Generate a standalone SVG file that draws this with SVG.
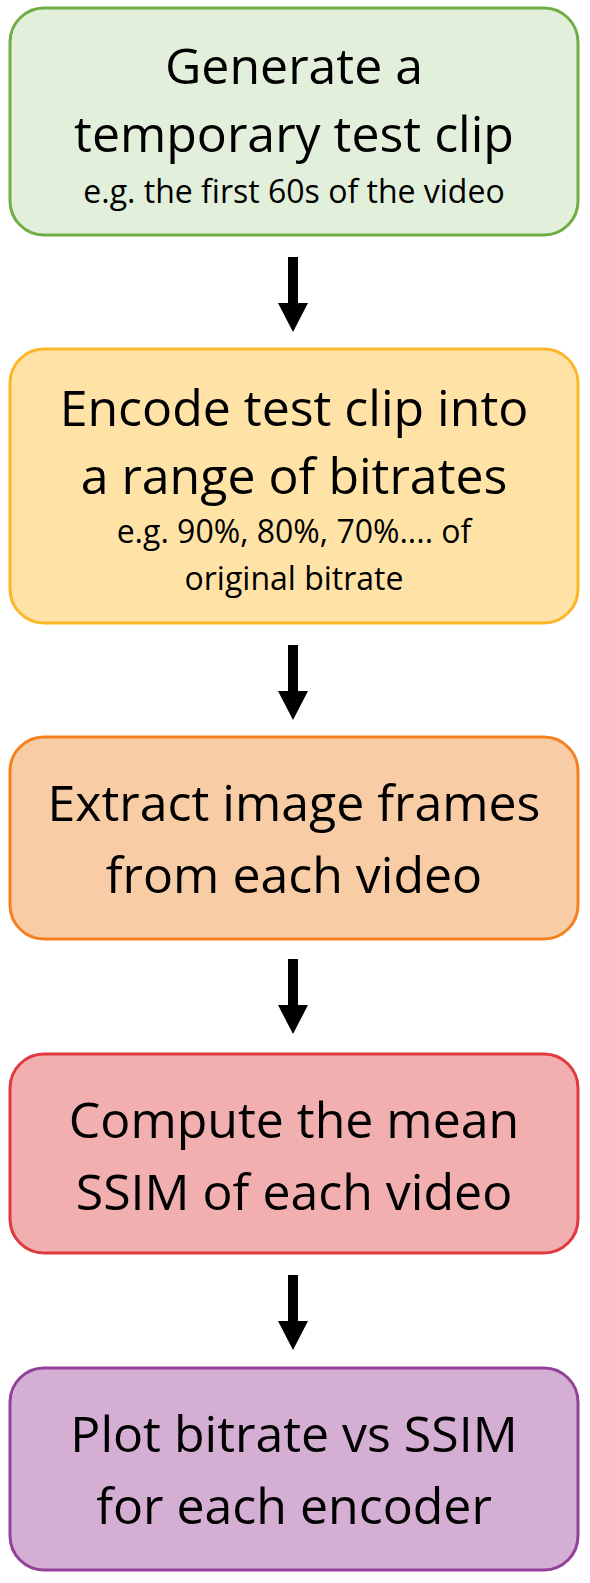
<svg xmlns="http://www.w3.org/2000/svg" width="590" height="1583" viewBox="0 0 590 1583">
<style>
.box{stroke-width:3}
.t{font-family:"Open Sans","Noto Sans",sans-serif;font-size:50px;fill:#000;text-anchor:middle}
.s{font-family:"Open Sans","Noto Sans",sans-serif;font-size:32px;fill:#000;text-anchor:middle}
</style>
<defs>
<polygon id="arr" points="-5,0 5,0 5,46 15,46 0,75 -15,46 -5,46" fill="#000"/>
</defs>
<g id="connectors">
<use href="#arr" x="293" y="257"/>
<use href="#arr" x="293" y="645"/>
<use href="#arr" x="293" y="959"/>
<use href="#arr" x="293" y="1275"/>
</g>
<g id="n1">
<rect class="box" x="10" y="8" width="568" height="227" rx="34" fill="#E2EFDA" stroke="#70AD47"/>
<text class="t" x="294" y="84">Generate a</text>
<text class="t" x="294" y="152">temporary test clip</text>
<text class="s" x="294" y="203">e.g. the first 60s of the video</text>
</g>
<g id="n2">
<rect class="box" x="10" y="349" width="568" height="274" rx="34" fill="#FFE3A6" stroke="#FBB62A"/>
<text class="t" x="294" y="426">Encode test clip into</text>
<text class="t" x="294" y="494">a range of bitrates</text>
<text class="s" x="294" y="543">e.g. 90%, 80%, 70%.... of</text>
<text class="s" x="294" y="590">original bitrate</text>
</g>
<g id="n3">
<rect class="box" x="10" y="737" width="568" height="202" rx="34" fill="#F8CCA5" stroke="#F4811F"/>
<text class="t" x="294" y="821">Extract image frames</text>
<text class="t" x="294" y="893">from each video</text>
</g>
<g id="n4">
<rect class="box" x="10" y="1054" width="568" height="199" rx="34" fill="#F1AFB0" stroke="#E0393F"/>
<text class="t" x="294" y="1138">Compute the mean</text>
<text class="t" x="294" y="1210">SSIM of each video</text>
</g>
<g id="n5">
<rect class="box" x="10" y="1368" width="568" height="202" rx="34" fill="#D5AED4" stroke="#93409A"/>
<text class="t" x="294" y="1452">Plot bitrate vs SSIM</text>
<text class="t" x="294" y="1524">for each encoder</text>
</g>
</svg>
